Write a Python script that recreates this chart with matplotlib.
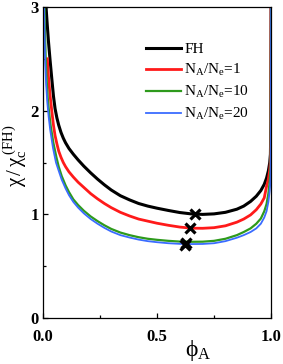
"""Spinodal curves: chi / chi_c(FH) vs phi_A for several N_A/N_e ratios"""

import numpy as np
import matplotlib
matplotlib.use('Agg')
import matplotlib.pyplot as plt

plt.rcParams['font.family'] = ['Liberation Serif', 'DejaVu Serif']
plt.rcParams['mathtext.fontset'] = 'custom'
plt.rcParams['mathtext.rm'] = 'Liberation Serif'
plt.rcParams['mathtext.it'] = 'Liberation Serif:italic'

# values
phi_fh = [0.0145, 0.02, 0.025, 0.032, 0.04, 0.047, 0.054, 0.062, 0.07, 0.08, 0.09, 0.1, 0.115,
          0.134, 0.155, 0.18, 0.21, 0.24, 0.27, 0.3, 0.34, 0.38, 0.42, 0.46, 0.5, 0.55, 0.6,
          0.65, 0.7, 0.75, 0.8, 0.85, 0.88, 0.91, 0.935, 0.955, 0.97, 0.98, 0.988, 0.994,
          0.997, 0.999, 1.0]
chi_fh = [3.0, 2.82, 2.67, 2.49, 2.3, 2.14, 2.02, 1.93, 1.86, 1.79, 1.735, 1.69, 1.635,
          1.58, 1.525, 1.465, 1.4, 1.34, 1.285, 1.235, 1.18, 1.14, 1.105, 1.08, 1.06, 1.038, 1.018,
          1.005, 1.0, 1.005, 1.02, 1.05, 1.08, 1.125, 1.175, 1.23, 1.29, 1.35, 1.42, 1.5,
          1.58, 1.9, 3.0]

phi_r = [0.02, 0.025, 0.032, 0.04, 0.047, 0.054, 0.062, 0.07, 0.08, 0.09, 0.1, 0.115,
         0.134, 0.155, 0.18, 0.21, 0.24, 0.27, 0.3, 0.34, 0.38, 0.42, 0.46, 0.5, 0.55, 0.6,
         0.65, 0.7, 0.75, 0.8, 0.85, 0.88, 0.91, 0.935, 0.955, 0.97, 0.98, 0.988, 0.994,
         0.997, 0.999, 1.0]
chi_r = [2.5, 2.33, 2.15, 1.99, 1.86, 1.76, 1.68, 1.61, 1.55, 1.5, 1.46, 1.41,
         1.36, 1.31, 1.26, 1.2, 1.15, 1.105, 1.065, 1.02, 0.985, 0.955, 0.935, 0.915, 0.895, 0.878,
         0.867, 0.866, 0.872, 0.89, 0.925, 0.955, 0.995, 1.045, 1.1, 1.16, 1.27, 1.34, 1.43,
         1.52, 1.8, 3.0]

phi_g = [0.008, 0.01, 0.013, 0.017, 0.022, 0.028, 0.035, 0.047, 0.06, 0.07, 0.083, 0.1, 0.115,
         0.134, 0.155, 0.18, 0.21, 0.24, 0.27, 0.3, 0.34, 0.38, 0.42, 0.46, 0.5, 0.55, 0.6,
         0.65, 0.7, 0.75, 0.8, 0.85, 0.88, 0.91, 0.935, 0.955, 0.97, 0.98, 0.988, 0.994,
         0.998, 1.0]
chi_g = [3.0, 2.75, 2.5, 2.3, 2.12, 1.98, 1.85, 1.685, 1.55, 1.46, 1.37, 1.28, 1.215,
         1.145, 1.09, 1.035, 0.98, 0.935, 0.895, 0.86, 0.825, 0.8, 0.78, 0.765, 0.755, 0.745, 0.738,
         0.736, 0.737, 0.745, 0.765, 0.8, 0.83, 0.865, 0.91, 0.96, 1.03, 1.1, 1.2, 1.32,
         1.46, 3.0]

phi_b = [0.006, 0.008, 0.011, 0.015, 0.02, 0.026, 0.033, 0.045, 0.058, 0.07, 0.083, 0.1, 0.115,
         0.134, 0.155, 0.18, 0.21, 0.24, 0.27, 0.3, 0.34, 0.38, 0.42, 0.46, 0.5, 0.55, 0.6,
         0.65, 0.7, 0.75, 0.8, 0.85, 0.88, 0.91, 0.935, 0.955, 0.97, 0.98, 0.988, 0.994,
         0.998, 1.0]
chi_b = [3.0, 2.72, 2.46, 2.25, 2.08, 1.94, 1.81, 1.64, 1.5, 1.42, 1.335, 1.25, 1.185,
         1.12, 1.065, 1.01, 0.955, 0.91, 0.87, 0.835, 0.8, 0.777, 0.757, 0.742, 0.732, 0.722, 0.716,
         0.714, 0.715, 0.722, 0.742, 0.775, 0.8, 0.83, 0.865, 0.91, 0.97, 1.03, 1.12, 1.23,
         1.36, 3.0]

# critical points (x marks)
crit_phi = [0.667, 0.645, 0.627, 0.622]
crit_chi = [1.0, 0.865, 0.725, 0.705]

labels = ['FH', r'N$_\mathregular{A}$/N$_\mathregular{e}$=1',
          r'N$_\mathregular{A}$/N$_\mathregular{e}$=10',
          r'N$_\mathregular{A}$/N$_\mathregular{e}$=20']

fig = plt.figure(figsize=(2.83, 3.64), dpi=100)
ax = fig.add_axes([0.151, 0.126, 0.807, 0.855])

ax.plot(phi_fh, chi_fh, color='black', lw=2.2, label=labels[0])
ax.plot(phi_r, chi_r, color='#ff1a1a', lw=2.0, label=labels[1])
ax.plot(phi_g, chi_g, color='#2e9a1c', lw=1.6, label=labels[2])
ax.plot(phi_b, chi_b, color='#3a6cff', lw=1.3, label=labels[3])
ax.plot(crit_phi, crit_chi, 'x', color='black', ms=7, mew=2.3, ls='none')

ax.set_xlim(0, 1)
ax.set_ylim(0, 3)
ax.set_xticks([0, 0.5, 1.0])
ax.set_xticklabels(['0.0', '0.5', '1.0'])
ax.set_xticks([0.25, 0.75], minor=True)
ax.set_yticks([0, 1, 2, 3])
ax.set_yticks([0.5, 1.5, 2.5], minor=True)
ax.tick_params(which='both', direction='in', labelsize=12)
ax.tick_params(axis='x', which='both', pad=8)
ax.tick_params(axis='y', which='both', pad=3)
ax.tick_params(which='major', length=3.5, width=0.9)
ax.tick_params(which='minor', length=2.5, width=0.9)
for lab in ax.get_xticklabels() + ax.get_yticklabels():
    lab.set_fontweight('bold')
for s in ax.spines.values():
    s.set_linewidth(0.9)

ax.set_xlabel(r'$\mathregular{\phi_A}$', fontsize=17)
ax.xaxis.set_label_coords(0.68, -0.065)
ax.set_ylabel(r'$\mathregular{\chi\,/\,\chi_c^{\;(FH)}}$', fontsize=15)
ax.yaxis.set_label_coords(-0.06, 0.52)

ax.legend(loc='upper right', bbox_to_anchor=(0.93, 0.905), frameon=False, fontsize=11,
          handlelength=2.3, handletextpad=0.2, labelspacing=0.38, borderaxespad=0)

fig.savefig('out.png', dpi=100)
